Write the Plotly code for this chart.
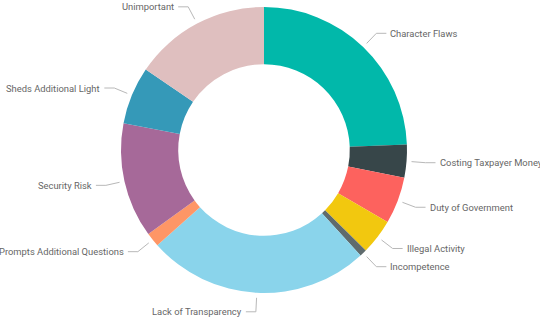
import numpy as np
import plotly.graph_objects as go

labels = ["Character Flaws", "Costing Taxpayer Money", "Duty of Government",
          "Illegal Activity", "Incompetence", "Lack of Transparency",
          "Prompts Additional Questions", "Security Risk",
          "Sheds Additional Light", "Unimportant"]
values = [24.4, 3.7, 5.3, 4.0, 0.8, 25.2, 1.6, 13.0, 6.5, 15.5]
colors = ["#01B8AA", "#374649", "#FD625E", "#F2C80F", "#5F6B6D",
          "#8AD4EB", "#FE9666", "#A66999", "#3599B8", "#DFBFBF"]

W, H = 540, 323
cx, cy, R = 264, 150, 143  # donut centre / radius in pixels

fig = go.Figure(go.Pie(
    labels=labels, values=values, sort=False, direction="clockwise",
    rotation=0, hole=0.6, textinfo="none", hoverinfo="label+percent",
    marker=dict(colors=colors, line=dict(width=0)),
    domain=dict(x=[(cx - R) / W, (cx + R) / W],
                y=[(H - cy - R) / H, (H - cy + R) / H]),
    showlegend=False,
))

def px(x):
    return x / W

def py(y):
    return 1 - y / H

vals = np.array(values, dtype=float)
cum = np.cumsum(vals)
mids = (cum - vals / 2) / vals.sum() * 2 * np.pi
r1, r2, hl = R + 5, R + 19, 10
shapes, annots = [], []
for lab, a in zip(labels, mids):
    s, c = np.sin(a), np.cos(a)
    x1, y1 = cx + r1 * s, cy - r1 * c
    x2, y2 = cx + r2 * s, cy - r2 * c
    side = 1 if s >= 0 else -1
    x3 = x2 + side * hl
    path = f"M {px(x1)},{py(y1)} L {px(x2)},{py(y2)} L {px(x3)},{py(y2)}"
    shapes.append(dict(type="path", xref="paper", yref="paper", path=path,
                       line=dict(color="#B8B8B8", width=1)))
    annots.append(dict(x=px(x3 + side * 2), y=py(y2), xref="paper", yref="paper",
                       text=lab, showarrow=False,
                       xanchor="left" if side > 0 else "right", yanchor="middle",
                       font=dict(family="Roboto", size=9.4, color="#666666")))

fig.update_layout(width=W, height=H, margin=dict(l=0, r=0, t=0, b=0),
                  paper_bgcolor="white", plot_bgcolor="white",
                  shapes=shapes, annotations=annots)
fig.write_html("out.html")
